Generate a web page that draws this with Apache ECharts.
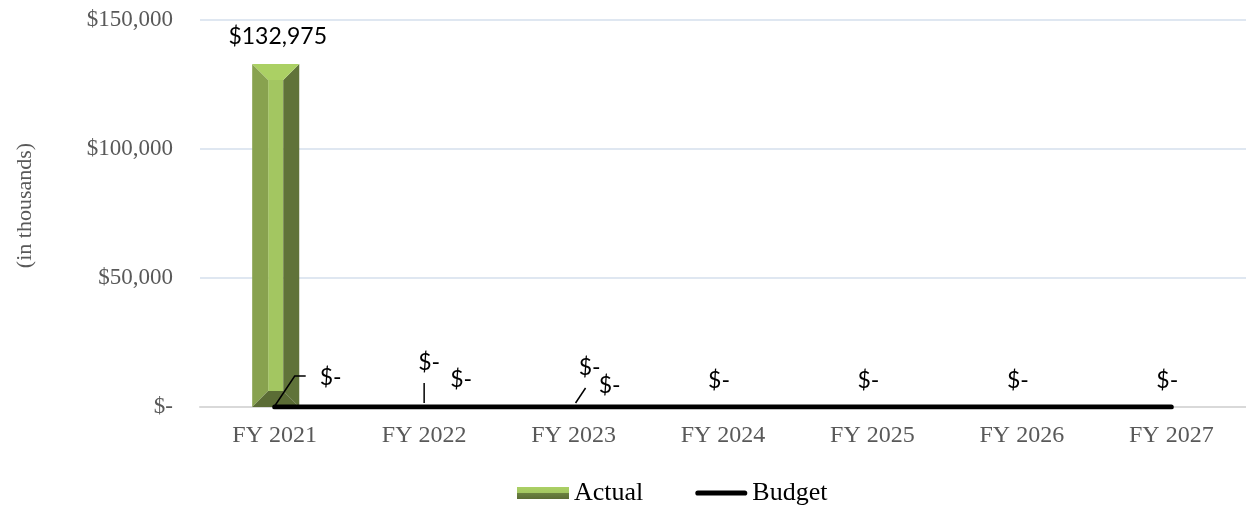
<!DOCTYPE html>
<html>
<head>
<meta charset="utf-8">
<script src="https://cdn.jsdelivr.net/npm/echarts@6/dist/echarts.min.js"></script>
<style>
html,body{margin:0;padding:0;background:#fff;}
#chart{width:1246px;height:505px;}
</style>
</head>
<body>
<div id="chart"></div>
<script>
// ---- data ----
const categories = ['FY 2021', 'FY 2022', 'FY 2023', 'FY 2024', 'FY 2025', 'FY 2026', 'FY 2027'];
const actual = [132975, 0, 0, null, null, null, null];
const budget = [0, 0, 0, 0, 0, 0, 0];
const yMin = 0, yMax = 150000, yStep = 50000;

// ---- label placement (pixel offsets from the data point) ----
const actualLabelOffset = { 1: [5, -44], 2: [16, -39] };
const actualLeader = { 1: [[0, -4], [0, -24]], 2: [[2, -4], [12, -19]] };
const budgetLabelOffset = [[56, -29], [37, -27], [36, -21], [-4, -26], [-4, -26], [-4, -26], [-4, -26]];
const budgetLeader = { 0: [[0, -1], [20, -31], [31, -31]] };

function money(v) {
  if (!v) return '$-';
  return '$' + v.toLocaleString('en-US');
}

const labelFont = 'Lato, "Noto Sans", sans-serif';
const serif = '"Liberation Serif", "Times New Roman", serif';

function textEl(x, y, txt) {
  return {
    type: 'text', x: x, y: y, z2: 10,
    style: { text: txt, fill: '#000', fontSize: 23, fontFamily: labelFont, align: 'center', verticalAlign: 'middle' }
  };
}
function leaderEl(base, pts) {
  return {
    type: 'polyline', z2: 9,
    shape: { points: pts.map(p => [base[0] + p[0], base[1] + p[1]]) },
    style: { stroke: '#000', lineWidth: 1.5, fill: null }
  };
}

function renderActual(params, api) {
  const i = api.value(0);
  const v = api.value(1);
  const base = api.coord([i, 0]);
  const children = [];
  if (v > 0) {
    const top = api.coord([i, v]);
    const bw = api.size([1, 0])[0] * 0.315;
    const x0 = base[0] - bw / 2 + 1, x1 = base[0] + bw / 2 + 1;
    const yt = top[1], yb = base[1];
    const b = Math.min(16, bw / 2 - 4);
    const poly = (pts, c) => ({ type: 'polygon', shape: { points: pts }, style: { fill: c } });
    children.push(poly([[x0 + b, yt + b], [x1 - b, yt + b], [x1 - b, yb - b], [x0 + b, yb - b]], '#a3c661'));
    children.push(poly([[x0, yt], [x0 + b, yt + b], [x0 + b, yb - b], [x0, yb]], '#88a24f'));
    children.push(poly([[x1, yt], [x1, yb], [x1 - b, yb - b], [x1 - b, yt + b]], '#607339'));
    children.push(poly([[x0, yt], [x1, yt], [x1 - b, yt + b], [x0 + b, yt + b]], '#abd064'));
    children.push(poly([[x0, yb], [x0 + b, yb - b], [x1 - b, yb - b], [x1, yb]], '#5b6c35'));
    children.push(textEl(base[0] + 3, yt - 27, money(v)));
  } else {
    const o = actualLabelOffset[i] || [0, -26];
    children.push(textEl(base[0] + o[0], base[1] + o[1], money(v)));
    if (actualLeader[i]) children.push(leaderEl(base, actualLeader[i]));
  }
  return { type: 'group', children: children };
}

function renderBudgetLabels(params, api) {
  const i = api.value(0);
  const v = api.value(1);
  const base = api.coord([i, v]);
  const o = budgetLabelOffset[i];
  const children = [textEl(base[0] + o[0], base[1] + o[1], money(v))];
  if (budgetLeader[i]) children.push(leaderEl(base, budgetLeader[i]));
  return { type: 'group', children: children };
}

const chart = echarts.init(document.getElementById('chart'), null, { renderer: 'canvas' });
chart.setOption({
  animation: false,
  backgroundColor: '#fff',
  grid: { left: 200, right: -6, top: 20, bottom: 98 },
  legend: {
    left: 512, top: 475,
    itemWidth: 52, itemHeight: 12, itemGap: 52,
    textStyle: { fontFamily: serif, fontSize: 26, color: '#000' },
    data: [
      {
        name: 'Actual', icon: 'rect',
        itemStyle: {
          color: {
            type: 'linear', x: 0, y: 0, x2: 0, y2: 1,
            colorStops: [
              { offset: 0, color: '#abd064' }, { offset: 0.5, color: '#a3c661' },
              { offset: 0.5, color: '#6b823f' }, { offset: 1, color: '#5b6c35' }
            ]
          }
        }
      },
      {
        name: 'Budget',
        icon: 'path://M3,0 L57,0 A3,3 0 0 1 57,6 L3,6 A3,3 0 0 1 3,0 Z',
        itemStyle: { color: '#000', borderWidth: 0 }
      }
    ]
  },
  xAxis: {
    type: 'category',
    data: categories,
    boundaryGap: true,
    axisLine: { show: true, lineStyle: { color: '#d9d9d9', width: 2 } },
    axisTick: { show: false },
    axisLabel: { fontFamily: serif, fontSize: 24, color: '#595959', margin: 17 }
  },
  yAxis: {
    type: 'value',
    min: yMin, max: yMax, interval: yStep,
    axisLine: { show: false },
    axisTick: { show: false },
    splitLine: { lineStyle: { color: '#d5dfec', width: 1.5 } },
    axisLabel: { fontFamily: serif, fontSize: 23, color: '#595959', margin: 27, formatter: money },
    name: '(in thousands)',
    nameLocation: 'middle',
    nameRotate: 90,
    nameGap: 164,
    nameTextStyle: { fontFamily: serif, fontSize: 22, color: '#595959', padding: [0, 0, 0, 16] }
  },
  series: [
    {
      name: 'Actual',
      type: 'custom',
      renderItem: renderActual,
      encode: { x: 0, y: 1 },
      itemStyle: { color: '#9bbb59' },
      data: actual.map((v, i) => [i, v]).filter(d => d[1] != null),
      z: 2
    },
    {
      name: 'Budget',
      type: 'line',
      data: budget,
      symbol: 'none',
      lineStyle: { color: '#000', width: 5, cap: 'round' },
      itemStyle: { color: '#000' },
      z: 3
    },
    {
      name: 'BudgetLabels',
      type: 'custom',
      renderItem: renderBudgetLabels,
      encode: { x: 0, y: 1 },
      silent: true,
      data: budget.map((v, i) => [i, v]),
      z: 4
    }
  ]
});
</script>
</body>
</html>
